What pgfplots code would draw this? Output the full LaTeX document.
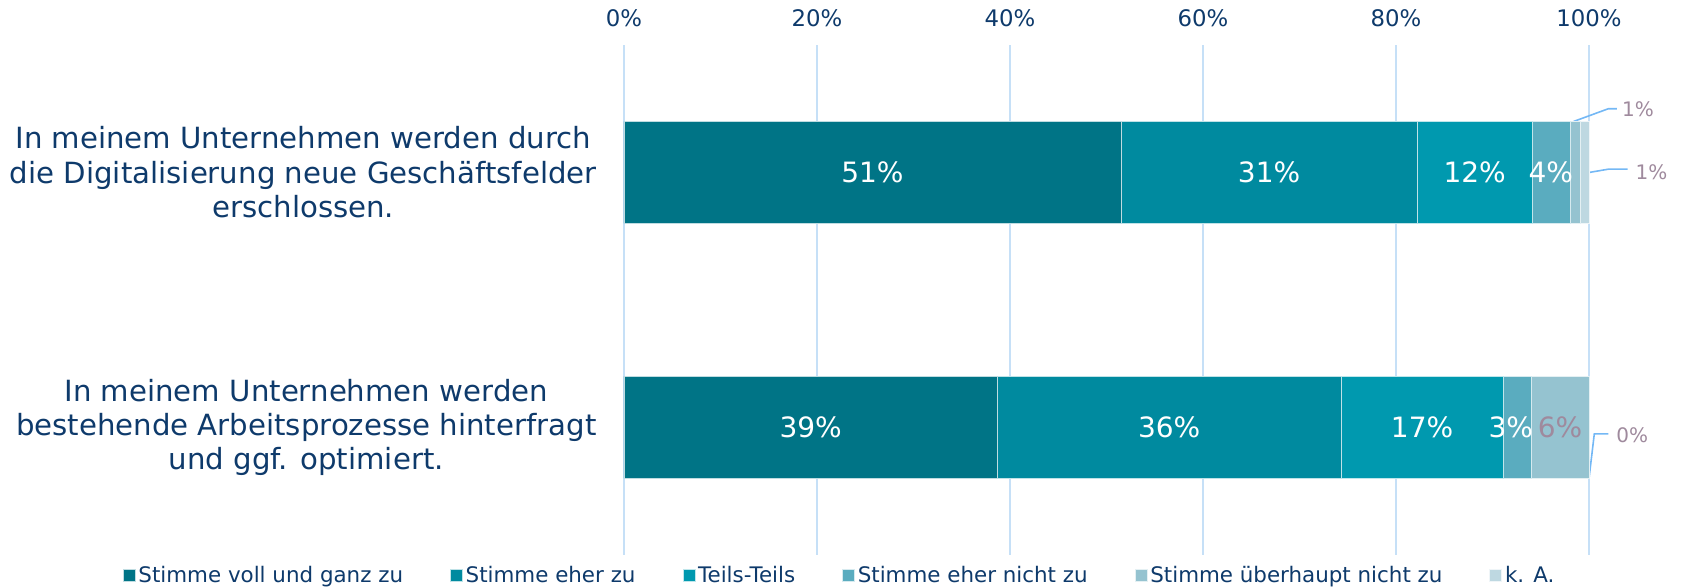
\documentclass[border=0pt]{standalone}
\usepackage{fontspec}
\setmainfont{DejaVu Sans}
\usepackage{pgfplots}
\pgfplotsset{compat=1.18}
\definecolor{c1}{HTML}{007486}
\definecolor{c2}{HTML}{008A9F}
\definecolor{c3}{HTML}{0099AF}
\definecolor{c4}{HTML}{5AACBF}
\definecolor{c5}{HTML}{95C3D0}
\definecolor{c6}{HTML}{BED8E1}
\definecolor{navy}{HTML}{0E3A6B}
\definecolor{gridblue}{HTML}{C6E0F7}
\definecolor{leader}{HTML}{74B8F5}
\definecolor{mauve}{HTML}{9F8A9D}
\tikzset{vlab/.style={font=\fontsize{14}{16}\selectfont, text=white},
         slab/.style={anchor=west, text=mauve, font=\fontsize{10}{12}\selectfont, inner sep=0pt}}

\begin{document}
\begin{tikzpicture}
\begin{axis}[
    scale only axis, width=482.5pt, height=255pt,
    xbar stacked, bar width=0.4,
    xmin=0, xmax=100, ymin=-0.5, ymax=1.5,
    xtick={0,20,...,100},
    xticklabels={0\%,20\%,40\%,60\%,80\%,100\%},
    xticklabel pos=upper,
    xticklabel style={font=\fontsize{11.4}{13}\selectfont, text=navy, anchor=base, yshift=9pt},
    ytick={0,1},
    yticklabels={{In meinem Unternehmen werden\\bestehende Arbeitsprozesse hinterfragt\\und ggf. optimiert.},
                 {In meinem Unternehmen werden durch\\die Digitalisierung neue Geschäftsfelder\\erschlossen.}},
    yticklabel style={font=\fontsize{14.6}{17.2}\selectfont, text=navy, align=center, inner sep=0pt, xshift=-13.5pt},
    axis line style={draw=none},
    major tick length=0pt,
    xmajorgrids, grid style={gridblue, line width=0.8pt},
    clip=false,
    legend columns=-1,
    legend image code/.code={\fill[#1] (0pt,-3pt) rectangle (6pt,3pt);},
    legend style={at={(0.224,0)}, anchor=center, yshift=-10.2pt, draw=none,
        font=\fontsize{10.7}{12}\selectfont, text=navy,
        nodes={inner xsep=1.5pt},
        /tikz/every even column/.append style={column sep=22pt}},
]
\addplot[fill=c1, draw=white!75!c1, line width=0.3pt] coordinates {(38.7,0) (51.5,1)};
\addplot[fill=c2, draw=white!75!c2, line width=0.3pt] coordinates {(35.6,0) (30.7,1)};
\addplot[fill=c3, draw=white!75!c3, line width=0.3pt] coordinates {(16.8,0) (11.9,1)};
\addplot[fill=c4, draw=white!75!c4, line width=0.3pt] coordinates {(2.9,0) (4.0,1)};
\addplot[fill=c5, draw=white!75!c5, line width=0.3pt] coordinates {(6.0,0) (1.0,1)};
\addplot[fill=c6, draw=white!75!c6, line width=0.3pt] coordinates {(0,0) (0.9,1)};
\legend{Stimme voll und ganz zu, Stimme eher zu, Teils-Teils, Stimme eher nicht zu, Stimme überhaupt nicht zu, k. A.}

\coordinate (a1) at (axis cs:25.75,1);
\coordinate (a2) at (axis cs:66.85,1);
\coordinate (a3) at (axis cs:88.15,1);
\coordinate (a4) at (axis cs:96.05,1);
\coordinate (b1) at (axis cs:19.35,0);
\coordinate (b2) at (axis cs:56.5,0);
\coordinate (b3) at (axis cs:82.7,0);
\coordinate (b4) at (axis cs:91.9,0);
\coordinate (b5) at (axis cs:97.0,0);

\draw[leader, line width=0.8pt] (axis cs:98.4,1.2) -- (axis cs:102.0,1.25) -- (axis cs:102.9,1.25);
\node[slab] at (axis cs:103.4,1.25) {1\%};
\draw[leader, line width=0.8pt] (axis cs:100,1.0) -- (axis cs:102.0,1.013) -- (axis cs:104.0,1.013);
\node[slab] at (axis cs:104.8,1.0) {1\%};
\draw[leader, line width=0.8pt] (axis cs:100,-0.2) -- (axis cs:100.55,-0.025) -- (axis cs:102.0,-0.025);
\node[slab] at (axis cs:102.8,-0.03) {0\%};

\coordinate (bl) at (rel axis cs:0,0);
\coordinate (tr) at (rel axis cs:1,1);
\end{axis}
% value labels on top of the bars
\node[vlab] at (a1) {51\%};
\node[vlab] at (a2) {31\%};
\node[vlab] at (a3) {12\%};
\node[vlab] at (a4) {4\%};
\node[vlab] at (b1) {39\%};
\node[vlab] at (b2) {36\%};
\node[vlab] at (b3) {17\%};
\node[vlab] at (b4) {3\%};
\node[vlab, text=mauve] at (b5) {6\%};
\pgfresetboundingbox
\path[use as bounding box] ([xshift=-312pt,yshift=-16.5pt]bl) rectangle ([xshift=46pt,yshift=22.5pt]tr);
\end{tikzpicture}
\end{document}
